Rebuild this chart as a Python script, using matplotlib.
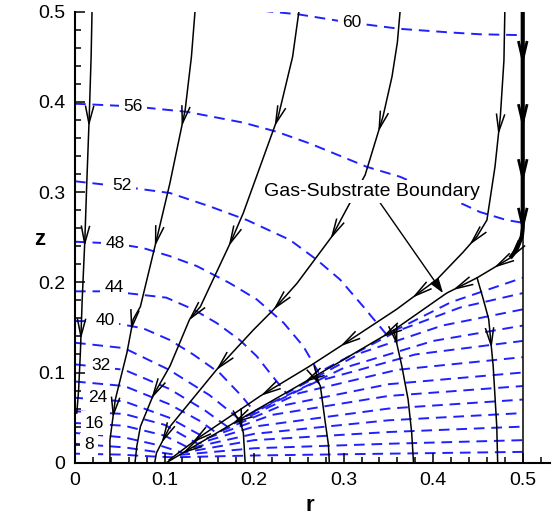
import numpy as np
import matplotlib
matplotlib.use('Agg')
import matplotlib.pyplot as plt
from matplotlib.ticker import MultipleLocator

plt.rcParams['font.family'] = ['Liberation Sans', 'DejaVu Sans']

# temperature contours (gas part, then substrate part), one polyline per level
levels = [4, 8, 12, 16, 20, 24, 28, 32, 36, 40, 44, 48, 52, 56, 60]
contour_r = [
    [0, 0.05, 0.085, 0.11, 0.2, 0.35, 0.5],
    [0, 0.055, 0.09, 0.115, 0.2, 0.35, 0.5],
    [0, 0.055, 0.095, 0.12, 0.2, 0.35, 0.5],
    [0, 0.055, 0.1, 0.128, 0.2, 0.35, 0.5],
    [0, 0.055, 0.1, 0.137, 0.2, 0.35, 0.5],
    [0, 0.055, 0.105, 0.13, 0.147, 0.22, 0.35, 0.5],
    [0, 0.055, 0.105, 0.14, 0.158, 0.23, 0.35, 0.5],
    [0, 0.055, 0.105, 0.145, 0.17, 0.25, 0.36, 0.5],
    [0, 0.055, 0.105, 0.15, 0.184, 0.27, 0.38, 0.5],
    [0, 0.032, 0.076, 0.106, 0.132, 0.162, 0.186, 0.2, 0.3, 0.4, 0.5],
    [0, 0.04, 0.102, 0.132, 0.158, 0.184, 0.203, 0.218, 0.236, 0.32, 0.41, 0.5],
    [0, 0.045, 0.076, 0.106, 0.136, 0.173, 0.203, 0.233, 0.255, 0.272, 0.36, 0.43, 0.5],
    [0, 0.054, 0.106, 0.151, 0.192, 0.24, 0.27, 0.296, 0.322, 0.337, 0.348, 0.42, 0.5],
    [0, 0.065, 0.125, 0.188, 0.225, 0.262, 0.326, 0.363, 0.426, 0.452, 0.482, 0.5],
    [0.19, 0.25, 0.3, 0.363, 0.419, 0.452, 0.5],
]
contour_z = [
    [0.010, 0.009, 0.007, 0.006, 0.008, 0.010, 0.012],
    [0.021, 0.017, 0.012, 0.0085, 0.016, 0.021, 0.025],
    [0.033, 0.028, 0.019, 0.011, 0.025, 0.034, 0.040],
    [0.044, 0.041, 0.030, 0.016, 0.032, 0.047, 0.055],
    [0.057, 0.054, 0.042, 0.021, 0.040, 0.060, 0.070],
    [0.072, 0.068, 0.050, 0.036, 0.027, 0.053, 0.074, 0.085],
    [0.090, 0.085, 0.065, 0.046, 0.033, 0.063, 0.087, 0.100],
    [0.109, 0.103, 0.082, 0.058, 0.040, 0.077, 0.103, 0.117],
    [0.133, 0.127, 0.103, 0.075, 0.048, 0.090, 0.120, 0.135],
    [0.157, 0.157, 0.149, 0.136, 0.120, 0.099, 0.074, 0.057, 0.105, 0.135, 0.152],
    [0.190, 0.190, 0.183, 0.170, 0.155, 0.136, 0.118, 0.099, 0.077, 0.122, 0.152, 0.170],
    [0.245, 0.243, 0.238, 0.229, 0.218, 0.199, 0.181, 0.155, 0.129, 0.100, 0.146, 0.172, 0.188],
    [0.312, 0.306, 0.299, 0.284, 0.269, 0.247, 0.225, 0.203, 0.173, 0.155, 0.142, 0.178, 0.205],
    [0.398, 0.395, 0.389, 0.377, 0.367, 0.354, 0.328, 0.317, 0.290, 0.278, 0.269, 0.266],
    [0.503, 0.497, 0.489, 0.481, 0.477, 0.475, 0.474],
]

# contour labels
label_text = ['8', '16', '24', '32', '40', '44', '48', '52', '56', '60']
label_r = [0.016, 0.022, 0.025, 0.029, 0.034, 0.044, 0.045, 0.053, 0.065, 0.309]
label_z = [0.020, 0.044, 0.072, 0.108, 0.158, 0.194, 0.2425, 0.307, 0.395, 0.488]

# streamlines (listed top to bottom, flow goes downward)
stream_r = [
    [0.019, 0.018, 0.016, 0.013, 0.011, 0.008, 0.006, 0.004, 0.002],
    [0.134, 0.13, 0.123, 0.106, 0.091, 0.073, 0.065, 0.058, 0.045, 0.039, 0.039],
    [0.25, 0.243, 0.227, 0.188, 0.175, 0.14, 0.128, 0.106, 0.087, 0.073, 0.069, 0.067],
    [0.363, 0.36, 0.354, 0.344, 0.324, 0.307, 0.287, 0.248, 0.222, 0.199, 0.158, 0.106, 0.091, 0.089],
    [0.48, 0.479, 0.475, 0.469, 0.46, 0.449, 0.433, 0.404, 0.359, 0.307, 0.262, 0.207, 0.14, 0.105],
    [0.5, 0.5, 0.499, 0.493, 0.486, 0.449, 0.415, 0.356, 0.296, 0.184, 0.102],
    [0.184, 0.188, 0.19],
    [0.268, 0.274, 0.279, 0.283, 0.284],
    [0.356, 0.365, 0.372, 0.376, 0.378],
    [0.449, 0.456, 0.462, 0.467, 0.471, 0.472],
]
stream_z = [
    [0.5, 0.45, 0.387, 0.306, 0.247, 0.18, 0.122, 0.08, 0.055],
    [0.5, 0.45, 0.391, 0.31, 0.247, 0.173, 0.159, 0.122, 0.07, 0.025, 0.0],
    [0.5, 0.45, 0.384, 0.277, 0.247, 0.173, 0.159, 0.107, 0.074, 0.04, 0.018, 0.0],
    [0.5, 0.466, 0.428, 0.384, 0.319, 0.288, 0.251, 0.199, 0.17, 0.147, 0.103, 0.04, 0.011, 0.0],
    [0.5, 0.446, 0.384, 0.328, 0.269, 0.251, 0.233, 0.203, 0.17, 0.136, 0.107, 0.074, 0.029, 0.003],
    [0.5, 0.26, 0.251, 0.236, 0.227, 0.205, 0.188, 0.147, 0.112, 0.048, 0.0],
    [0.048, 0.033, 0.0],
    [0.096, 0.085, 0.048, 0.02, 0.0],
    [0.147, 0.107, 0.07, 0.033, 0.0],
    [0.205, 0.181, 0.159, 0.107, 0.04, 0.0],
]
stream_arrows = [
    [0.376, 0.243, 0.14],
    [0.376, 0.243, 0.15, 0.053],
    [0.376, 0.243, 0.16, 0.074],
    [0.37, 0.251, 0.172, 0.105, 0.025],
    [0.367, 0.244, 0.185, 0.131, 0.076, 0.024],
    [0.447, 0.377, 0.316, 0.262, 0.228, 0.218, 0.193, 0.141, 0.091, 0.045, 0.012],
    [0.04],
    [0.088],
    [0.133],
    [0.13],
]

# thick outer wall segment and the right edge of the substrate
wall_r = [0.5, 0.5, 0.499, 0.493, 0.486]
wall_z = [0.5, 0.26, 0.251, 0.236, 0.227]
edge_r = [0.5, 0.5]
edge_z = [0.0, 0.25]

tick_vals = [0, 0.1, 0.2, 0.3, 0.4, 0.5]
tick_text = ['0', '0.1', '0.2', '0.3', '0.4', '0.5']


def draw_arrow(ax, rs, zs, z0, size=0.019, half=0.0045, lw=1.1):
    rs = np.asarray(rs, float)
    zs = np.asarray(zs, float)
    i = 0
    while i < len(zs) - 2 and zs[i + 1] > z0:
        i += 1
    seg_r = rs[i + 1] - rs[i]
    seg_z = zs[i + 1] - zs[i]
    t = (z0 - zs[i]) / seg_z if seg_z != 0 else 0.0
    r0 = rs[i] + t * seg_r
    n = np.hypot(seg_r, seg_z)
    dr, dz = seg_r / n, seg_z / n
    pr, pz = -dz, dr
    br, bz = r0 - dr * size, z0 - dz * size
    ax.plot([br + pr * half, r0, br - pr * half],
            [bz + pz * half, z0, bz - pz * half],
            color='black', lw=lw, zorder=4)


fig = plt.figure(figsize=(5.56, 5.23), dpi=100)
ax = fig.add_axes([0.1349, 0.1153, 0.8536, 0.8623])

for rs, zs in zip(contour_r, contour_z):
    ax.plot(rs, zs, color='#2020ff', lw=1.4, dashes=(5.5, 3.5), zorder=1)

for s, r, z in zip(label_text, label_r, label_z):
    ax.text(r, z, s, fontsize=12.5, ha='center', va='center', zorder=2,
            bbox=dict(boxstyle='square,pad=0.25', fc='white', ec='none'))

for rs, zs, arr in zip(stream_r, stream_z, stream_arrows):
    ax.plot(rs, zs, color='black', lw=1.1, zorder=3)
    for z0 in arr:
        bold = rs[0] == 0.5 and z0 > 0.255
        draw_arrow(ax, rs, zs, z0, lw=2.0 if bold else 1.1)

ax.plot(wall_r, wall_z, color='black', lw=3.0, zorder=3, solid_capstyle='butt')
ax.plot(edge_r, edge_z, color='black', lw=1.1, zorder=3)

ax.annotate('Gas-Substrate Boundary', xy=(0.411, 0.188), xytext=(0.332, 0.3005),
            fontsize=14, ha='center', va='center', zorder=5,
            bbox=dict(boxstyle='square,pad=0.15', fc='white', ec='none'),
            arrowprops=dict(arrowstyle='-|>,head_length=0.6,head_width=0.2',
                            color='black', lw=1.0, mutation_scale=15,
                            shrinkA=0, shrinkB=0))

ax.set_xlim(0, 0.53)
ax.set_ylim(0, 0.5)
ax.spines['top'].set_visible(False)
ax.spines['right'].set_visible(False)
ax.spines['left'].set_linewidth(1.5)
ax.spines['bottom'].set_linewidth(1.5)
ax.set_xticks(tick_vals)
ax.set_xticklabels(tick_text)
ax.set_yticks(tick_vals)
ax.set_yticklabels(tick_text)
ax.xaxis.set_minor_locator(MultipleLocator(0.02))
ax.yaxis.set_minor_locator(MultipleLocator(0.02))
ax.tick_params(which='both', direction='in', width=1.1, labelsize=14)
ax.tick_params(which='major', length=7, pad=7)
ax.tick_params(which='minor', length=4.3)

ax.set_xlabel('r', fontsize=16, fontweight='bold')
ax.set_ylabel('z', fontsize=16, fontweight='bold', rotation=0)
ax.xaxis.label.set_verticalalignment('center')
ax.yaxis.label.set_horizontalalignment('center')
ax.yaxis.label.set_verticalalignment('center')
ax.xaxis.set_label_coords(0.495, -0.094)
ax.yaxis.set_label_coords(-0.074, 0.494)

fig.savefig('out.png', dpi=100)
